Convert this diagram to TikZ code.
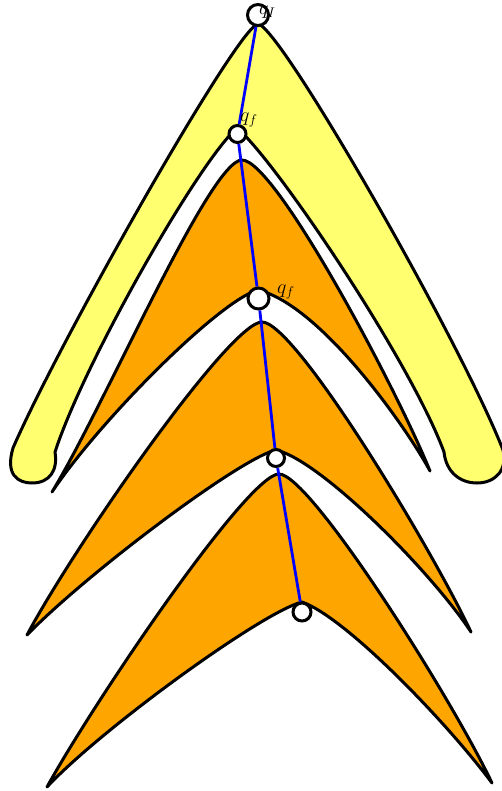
\RequirePackage{fix-cm}
\documentclass[tikz,border=0pt]{standalone}
\usepackage{amsmath}
\usetikzlibrary{positioning,calc}
\definecolor{bmyellow}{HTML}{FFFF70}
\definecolor{bmorange}{HTML}{FFA500}

\begin{document}
\begin{tikzpicture}[x=1pt,y=-1pt,
  boom/.style={draw=black,line width=3pt,line join=round},
  state/.style={circle,draw=black,fill=white,line width=3pt,inner sep=0pt},
  conn/.style={draw=blue,line width=2.8pt},
  lbl/.style={inner sep=0pt,anchor=base west,font=\fontsize{20}{22}\selectfont}]
\useasboundingbox (0,0) rectangle (501,791);

\draw[boom,fill=bmyellow] (258,24)
  .. controls (238,26) and (60,340) .. (13,448)
  .. controls (5,475) and (18,483) .. (32,483)
  .. controls (50,483) and (58,470) .. (55,452)
  .. controls (85,360) and (200,160) .. (237,128)
  .. controls (275,160) and (410,360) .. (444,452)
  .. controls (446,472) and (460,483) .. (477,483)
  .. controls (495,483) and (508,470) .. (503,450)
  .. controls (460,340) and (280,26) .. (258,24) -- cycle;

\draw[boom,fill=bmorange] (242,160)
  .. controls (275,160) and (395,385) .. (430,471)
  .. controls (405,425) and (320,305) .. (258,290)
  .. controls (220,300) and (100,420) .. (52,492)
  .. controls (105,405) and (210,160) .. (242,160) -- cycle;

\draw[boom,fill=bmorange] (262,322)
  .. controls (295,322) and (430,545) .. (471,632)
  .. controls (430,570) and (320,460) .. (276,450)
  .. controls (240,458) and (85,575) .. (27,635)
  .. controls (75,545) and (230,322) .. (262,322) -- cycle;

\draw[boom,fill=bmorange] (279,474)
  .. controls (310,474) and (450,695) .. (492,783)
  .. controls (445,720) and (345,617) .. (302,602)
  .. controls (262,612) and (100,730) .. (47,787)
  .. controls (95,700) and (248,474) .. (279,474) -- cycle;

\node[state,minimum size=21pt] (qI) at (258,15) {};
\node[state,minimum size=17pt] (qfa) at (237.5,134) {};
\node[state,minimum size=21pt] (qfb) at (258.5,298.5) {};
\node[state,minimum size=17pt] (qc) at (276,458) {};
\node[state,minimum size=18pt] (qd) at (302,612) {};

\draw[conn] (qI) -- (qfa) -- (qfb) -- (qc) -- (qd);

\node[lbl] (lqI) at ($(qI)+(1,0)$) {$q_I$};
\node[lbl] (lqfa) at ($(qfa)+(2.5,-12)$) {$q_f$};
\node[lbl] (lqfb) at ($(qfb)+(18.5,-5.5)$) {$q_f$};
\end{tikzpicture}
\end{document}
